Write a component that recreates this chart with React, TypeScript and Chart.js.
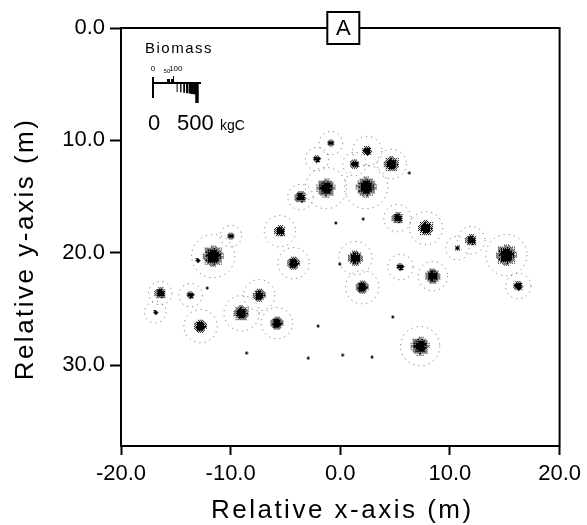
import React, { useEffect, useRef } from 'react';
import { Chart, registerables } from 'chart.js';
Chart.register(...registerables);

// Tree positions (m), stem biomass (kgC) and crown radius (m)
const treeX = [-0.86, -2.11, 2.45, 1.29, 4.69, -1.31, 2.36, -3.63, -5.51, -9.98, -4.26, -11.59, -13.02, -16.42, -13.65, -7.39, -16.87, -9.0, -12.75, -5.78, 5.22, 7.82, 11.93, 10.68, 15.15, 1.38, 5.49, 8.44, 2.0, 16.23, 7.28, -0.41, 2.09, -0.05, -12.13, -2.02, -8.55, -2.92, 0.21, 2.9, 4.78, 6.3];
const treeY = [10.24, 11.67, 10.95, 12.11, 12.11, 14.25, 14.16, 15.05, 18.08, 18.52, 20.93, 20.3, 20.66, 23.6, 23.78, 23.78, 25.29, 25.38, 26.54, 26.27, 16.92, 17.81, 18.88, 19.59, 20.21, 20.48, 21.28, 22.08, 23.06, 22.97, 28.32, 17.36, 17.01, 21.02, 23.15, 26.54, 28.94, 29.39, 29.12, 29.3, 25.73, 12.91];
const biomass = [60, 80, 120, 110, 280, 400, 480, 180, 170, 60, 210, 500, 30, 170, 80, 200, 30, 280, 210, 210, 160, 280, 160, 40, 500, 260, 80, 260, 210, 120, 400, 4, 4, 4, 4, 4, 4, 4, 4, 4, 4, 4];
const crownRadius = [1.07, 1.07, 1.34, 1.07, 1.34, 1.88, 1.97, 1.16, 1.43, 0.98, 1.43, 1.97, 0, 1.07, 1.07, 1.43, 0.98, 1.61, 1.52, 1.43, 1.25, 1.52, 1.25, 1.07, 1.88, 1.52, 1.16, 1.34, 1.52, 1.16, 1.79, 0, 0, 0, 0, 0, 0, 0, 0, 0, 0, 0];

const xTicks = [-20, -10, 0, 10, 20];
const yTicks = [0, 10, 20, 30];
const xRange = [-20, 20];
const yRange = [0, 37.2];

// Legend scale (kgC)
const legendUpTicks = [50, 60, 70, 80, 90, 100];
const legendDownTicks = [150, 200, 250, 300, 350, 400, 450, 500];
const legendSmallLabels = ['0', '50', '100'];
const legendBigLabels = ['0', '500'];

const FONT = '"Liberation Sans", Arial, sans-serif';

const bayer = [
  [0, 8, 2, 10],
  [12, 4, 14, 6],
  [3, 11, 1, 9],
  [15, 7, 13, 5],
];
const blobCache = new Map<number, HTMLCanvasElement>();
function blobRadius(b: number) {
  return 0.45 * Math.sqrt(b);
}
function blobImage(R: number): HTMLCanvasElement {
  const key = Math.round(R * 4) / 4;
  const hit = blobCache.get(key);
  if (hit) return hit;
  const c = document.createElement('canvas');
  if (key < 1.5) {
    c.width = 4;
    c.height = 4;
    const g = c.getContext('2d')!;
    g.fillStyle = '#000';
    g.beginPath();
    g.arc(2, 2, 1.4, 0, Math.PI * 2);
    g.fill();
  } else {
    const outer = key * 1.15;
    const core = key * 0.5;
    const size = Math.ceil(outer * 2) + 2;
    c.width = size;
    c.height = size;
    const g = c.getContext('2d')!;
    const img = g.createImageData(size, size);
    const cx = size / 2;
    for (let y = 0; y < size; y++) {
      for (let x = 0; x < size; x++) {
        const d = Math.hypot(x + 0.5 - cx, y + 0.5 - cx);
        let dens = d <= core ? 1 : d >= outer ? 0 : 1 - (d - core) / (outer - core);
        dens = Math.pow(dens, 0.9);
        const th = (bayer[y % 4][x % 4] + 0.5) / 16;
        if (dens > th) {
          const i = (y * size + x) * 4;
          img.data[i] = 0;
          img.data[i + 1] = 0;
          img.data[i + 2] = 0;
          img.data[i + 3] = 255;
        }
      }
    }
    g.putImageData(img, 0, 0);
  }
  blobCache.set(key, c);
  return c;
}

const decorPlugin = {
  id: 'decor',
  beforeDatasetDraw(chart: any, args: any) {
    if (args.index === 1) chart.ctx.setLineDash([1.2, 4]);
  },
  afterDatasetDraw(chart: any, args: any) {
    if (args.index === 1) chart.ctx.setLineDash([]);
  },
  afterDraw(chart: any) {
    const ctx = chart.ctx as CanvasRenderingContext2D;
    const a = chart.chartArea;
    ctx.save();
    // top and right frame
    ctx.strokeStyle = '#000';
    ctx.lineWidth = 2;
    ctx.beginPath();
    ctx.moveTo(a.left - 1, a.top);
    ctx.lineTo(a.right, a.top);
    ctx.lineTo(a.right, a.bottom + 1);
    ctx.stroke();

    // boxed panel label
    const cx = (a.left + a.right) / 2 + 3;
    ctx.fillStyle = '#fff';
    ctx.fillRect(cx - 16, 12, 32, 32);
    ctx.strokeRect(cx - 16, 12, 32, 32);
    ctx.fillStyle = '#000';
    ctx.font = `22px ${FONT}`;
    ctx.textAlign = 'center';
    ctx.textBaseline = 'middle';
    ctx.fillText('A', cx, 29);

    // axis titles
    (ctx as any).letterSpacing = '2.5px';
    ctx.font = `26px ${FONT}`;
    ctx.fillText('Relative x-axis (m)', (a.left + a.right) / 2 + 2, 511);
    ctx.save();
    ctx.translate(26, 249);
    ctx.rotate(-Math.PI / 2);
    ctx.fillText('Relative y-axis (m)', 0, 0);
    ctx.restore();

    // legend
    (ctx as any).letterSpacing = '1.5px';
    ctx.font = `15px ${FONT}`;
    ctx.textAlign = 'left';
    ctx.textBaseline = 'alphabetic';
    ctx.fillText('Biomass', 145, 53);
    (ctx as any).letterSpacing = '0px';

    const x0 = 153;
    const pos = (v: number) => x0 + 44 * Math.sqrt(v / 500);
    ctx.lineWidth = 2;
    ctx.beginPath();
    ctx.moveTo(x0, 77);
    ctx.lineTo(x0, 98);
    ctx.moveTo(x0, 83);
    ctx.lineTo(pos(500) + 4, 83);
    ctx.stroke();
    ctx.lineWidth = 1;
    legendUpTicks.forEach((v, i) => {
      const x = Math.round(pos(v)) + 0.5;
      ctx.beginPath();
      ctx.moveTo(x, 83);
      ctx.lineTo(x, 83 - (i === legendUpTicks.length - 1 ? 7 : 4));
      ctx.stroke();
    });
    legendDownTicks.forEach((v, i) => {
      const x = pos(v);
      const w = 1 + i * 0.35;
      const last = i === legendDownTicks.length - 1;
      ctx.fillRect(x - w / 2, 83, w, last ? 20 : 9 + i * 0.4);
    });
    ctx.font = `8px ${FONT}`;
    ctx.textAlign = 'center';
    ctx.fillText(legendSmallLabels[0], x0, 71);
    ctx.font = `6px ${FONT}`;
    ctx.fillText(legendSmallLabels[1], pos(50), 73);
    ctx.font = `8px ${FONT}`;
    ctx.fillText(legendSmallLabels[2], pos(100) + 3, 71);
    ctx.font = `22px ${FONT}`;
    ctx.textAlign = 'left';
    ctx.fillText(legendBigLabels[0], 148, 130);
    ctx.fillText(legendBigLabels[1], 177, 130);
    ctx.font = `14px ${FONT}`;
    ctx.fillText('kgC', 220, 130);
    ctx.restore();
  },
};

export default function App() {
  const ref = useRef<HTMLCanvasElement>(null);
  useEffect(() => {
    document.body.style.margin = '0';
    const pts = treeX.map((x, i) => ({ x, y: treeY[i] }));
    const chart = new Chart(ref.current!, {
      type: 'scatter',
      data: {
        datasets: [
          {
            label: 'Biomass',
            data: pts,
            pointStyle: (c: any) => blobImage(blobRadius(biomass[c.dataIndex] ?? 1)),
            pointRadius: (c: any) => Math.max(1, blobRadius(biomass[c.dataIndex] ?? 1)),
            backgroundColor: '#000',
            borderWidth: 0,
          } as any,
          {
            label: 'Crown',
            data: pts,
            pointStyle: 'circle',
            pointRadius: (c: any) => {
              const sc = c.chart.scales?.x;
              const r = crownRadius[c.dataIndex] ?? 0;
              if (!sc || r <= 0) return 0;
              return Math.abs(sc.getPixelForValue(r) - sc.getPixelForValue(0));
            },
            backgroundColor: 'rgba(0,0,0,0)',
            borderColor: 'rgba(0,0,0,0.5)',
            borderWidth: 1,
          } as any,
        ],
      },
      options: {
        responsive: false,
        animation: false,
        events: [],
        layout: { padding: { top: 28, right: 21, left: 0, bottom: 0 } },
        plugins: { legend: { display: false }, tooltip: { enabled: false } },
        scales: {
          x: {
            type: 'linear',
            min: xRange[0],
            max: xRange[1],
            afterBuildTicks: (s: any) => {
              s.ticks = xTicks.map((v) => ({ value: v }));
            },
            afterFit: (s: any) => {
              s.height = 79;
            },
            ticks: {
              color: '#000',
              font: { family: FONT, size: 22 },
              padding: 6,
              maxRotation: 0,
              callback: (v: any) => Number(v).toFixed(1),
            },
            grid: { drawOnChartArea: false, drawTicks: true, tickLength: 9, tickWidth: 2, tickColor: '#000' },
            border: { display: true, color: '#000', width: 2 },
          },
          y: {
            type: 'linear',
            reverse: true,
            min: yRange[0],
            max: yRange[1],
            afterBuildTicks: (s: any) => {
              s.ticks = yTicks.map((v) => ({ value: v }));
            },
            afterFit: (s: any) => {
              s.width = 121;
            },
            ticks: {
              color: '#000',
              font: { family: FONT, size: 22 },
              padding: 5,
              callback: (v: any) => Number(v).toFixed(1),
            },
            grid: { drawOnChartArea: false, drawTicks: true, tickLength: 11, tickWidth: 2, tickColor: '#000' },
            border: { display: true, color: '#000', width: 2 },
          },
        },
      } as any,
      plugins: [decorPlugin],
    });
    return () => chart.destroy();
  }, []);
  return (
    <div style={{ width: 587, height: 525 }}>
      <canvas ref={ref} width={587} height={525} style={{ display: 'block' }} />
    </div>
  );
}
